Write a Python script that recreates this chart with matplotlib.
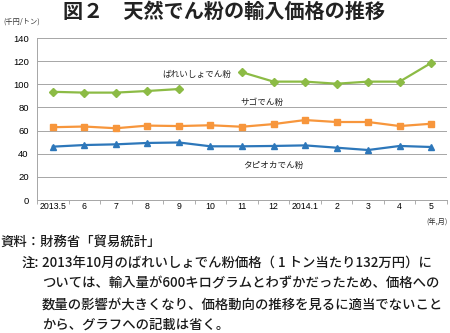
import matplotlib
matplotlib.use("Agg")
import matplotlib.pyplot as plt
import numpy as np

plt.rcParams['font.family'] = ['Noto Sans CJK JP', 'DejaVu Sans']

categories = ["2013.5", "6", "7", "8", "9", "10", "11", "12", "2014.1", "2", "3", "4", "5"]
potato = [93.5, 92.8, 92.8, 94.2, 95.9, None, 110.4, 102.3, 102.3, 100.5, 102.3, 102.3, 118.5]
sago = [62.9, 63.5, 62.0, 64.3, 63.9, 64.6, 63.3, 65.6, 69.1, 67.4, 67.4, 63.9, 65.9]
tapioca = [46.1, 47.5, 48.1, 49.3, 49.7, 46.4, 46.4, 46.7, 47.2, 45.2, 43.2, 46.7, 45.8]
yticks = [0, 20, 40, 60, 80, 100, 120, 140]

W, H = 450, 333
fig = plt.figure(figsize=(W / 100, H / 100), dpi=100)

def fx(px):
    return px / W

def fy(py):
    return 1 - py / H

ax = fig.add_axes([fx(37), fy(200), fx(447) - fx(37), fy(38) - fy(200)])
x = np.arange(len(categories))

def arr(v):
    return np.array([np.nan if a is None else a for a in v], dtype=float)

green = '#8CBB45'
orange = '#F7963C'
blue = '#2D77BA'

ax.plot(x, arr(potato), color=green, lw=1.6, marker='D', ms=4.2, zorder=3)
ax.plot(x, arr(sago), color=orange, lw=1.6, marker='s', ms=4.5, zorder=3)
ax.plot(x, arr(tapioca), color=blue, lw=1.6, marker='^', ms=4.8, zorder=3)

ax.set_xlim(-0.5, len(categories) - 0.5)
ax.set_ylim(0, 140)
ax.set_yticks(yticks)
ax.set_yticklabels([str(t) for t in yticks], family='Liberation Sans', fontsize=6.8)
ax.set_xticks(x)
ax.set_xticklabels(categories, family='Liberation Sans', fontsize=6.3)
ax.tick_params(axis='x', which='major', length=0, pad=1.5)
ax.set_xticks(np.arange(-0.5, len(categories), 1), minor=True)
ax.tick_params(axis='x', which='minor', length=3, width=0.6, color='#a0a0a0', direction='out')
ax.tick_params(axis='y', length=0, pad=6)
ax.grid(axis='y', color='#a6a6a6', lw=0.7)
ax.set_axisbelow(True)
for s in ['top', 'right']:
    ax.spines[s].set_visible(False)
ax.spines['left'].set_color('#a6a6a6')
ax.spines['left'].set_linewidth(0.7)
ax.spines['bottom'].set_color('#a6a6a6')
ax.spines['bottom'].set_linewidth(0.7)

# series labels
fig.text(fx(162), fy(74), "ばれいしょでん粉", fontsize=6.2, va='center', ha='left', color='#222222')
fig.text(fx(240), fy(103), "サゴでん粉", fontsize=6.2, va='center', ha='left', color='#222222')
fig.text(fx(243), fy(165), "タピオカでん粉", fontsize=6.2, va='center', ha='left', color='#222222')

# title
fig.text(fx(224), fy(11), "図２　天然でん粉の輸入価格の推移", fontsize=14.5, fontweight='bold',
         ha='center', va='center', color='#222222')
fig.text(fx(3), fy(22), "(千円/トン)", fontsize=5.2, ha='left', va='center', color='#333333')
fig.text(fx(448), fy(222), "(年,月)", fontsize=5.2, ha='right', va='center', color='#333333')

# notes
fs = 9.6
col = '#1a1a1a'
fig.text(fx(0), fy(242), "資料：財務省「貿易統計」", fontsize=fs, fontweight='medium',
         ha='left', va='center', color=col)
fig.text(fx(22), fy(263), "注:", fontsize=fs, fontweight='medium', ha='left', va='center', color=col)
lines = [
    "2013年10月のばれいしょでん粉価格（ 1 トン当たり132万円）に",
    "ついては、輸入量が600キログラムとわずかだったため、価格への",
    "数量の影響が大きくなり、価格動向の推移を見るに適当でないこと",
    "から、グラフへの記載は省く。",
]
ys = [263, 284, 305, 325]
for t, yy in zip(lines, ys):
    fig.text(fx(42), fy(yy), t, fontsize=fs, fontweight='medium', ha='left', va='center', color=col)

fig.savefig("out.png", dpi=100)
